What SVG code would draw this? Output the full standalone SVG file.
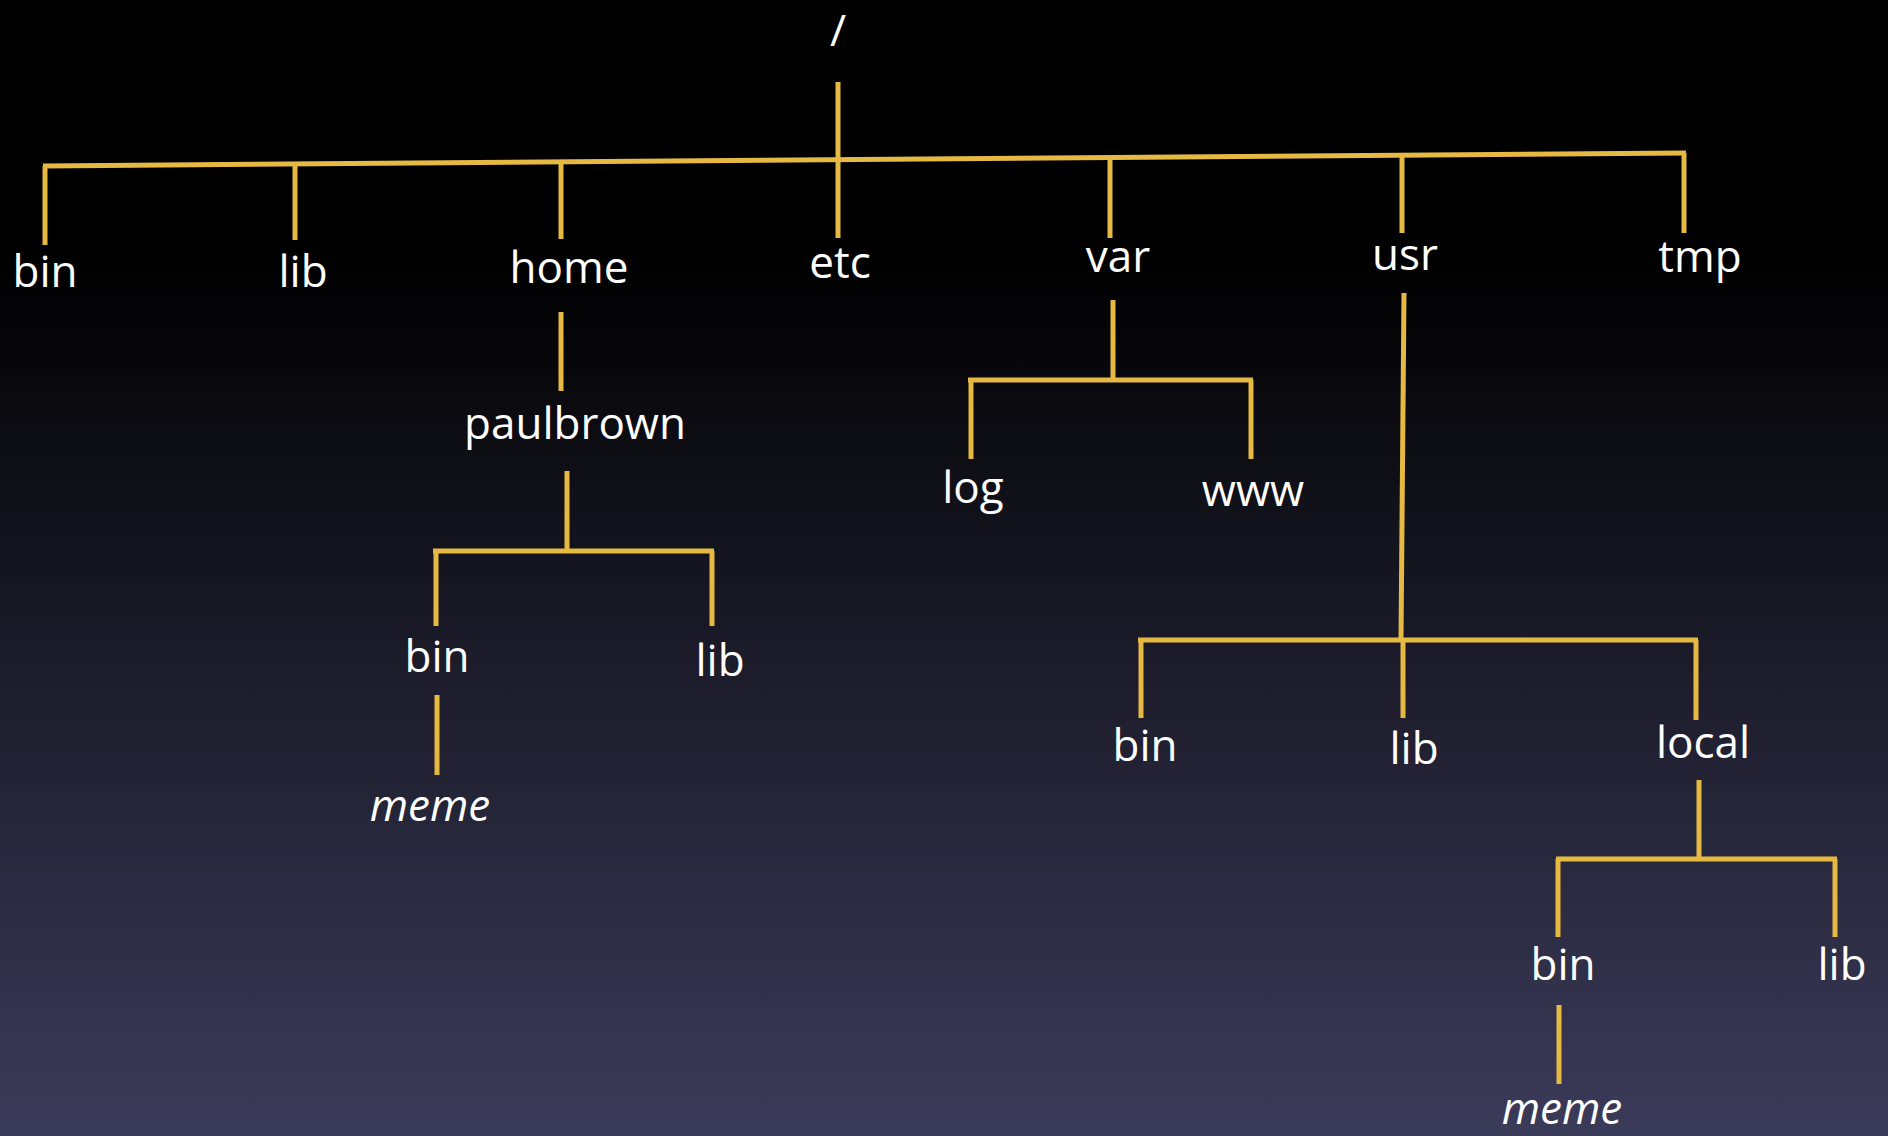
<svg xmlns="http://www.w3.org/2000/svg" width="1888" height="1136" viewBox="0 0 1888 1136">
<defs>
<linearGradient id="bg" x1="0" y1="0" x2="0" y2="1">
<stop offset="0" stop-color="#000000"/>
<stop offset="0.22" stop-color="#000000"/>
<stop offset="1" stop-color="#3b3b5a"/>
</linearGradient>
<style>
.l{stroke:#e6b943;stroke-width:5;fill:none;stroke-linecap:butt}
.t{font-family:"Open Sans","Liberation Sans",sans-serif;font-size:44px;fill:#ffffff;text-anchor:middle}
.i{font-style:italic}
</style>
</defs>
<rect width="1888" height="1136" fill="url(#bg)"/>
<g id="connectors">
<line class="l" x1="838" y1="82" x2="838" y2="160"/>
<line class="l" x1="43" y1="166" x2="1686" y2="153"/>
<line class="l" x1="45" y1="166" x2="45" y2="245"/>
<line class="l" x1="295" y1="164" x2="295" y2="240"/>
<line class="l" x1="561" y1="162" x2="561" y2="239"/>
<line class="l" x1="838" y1="160" x2="838" y2="238"/>
<line class="l" x1="1110" y1="158" x2="1110" y2="238"/>
<line class="l" x1="1402" y1="156" x2="1402" y2="233"/>
<line class="l" x1="1684" y1="153" x2="1684" y2="233"/>
<line class="l" x1="561" y1="312" x2="561" y2="391"/>
<line class="l" x1="567" y1="471" x2="567" y2="551"/>
<line class="l" x1="433" y1="551" x2="714" y2="551"/>
<line class="l" x1="436" y1="551" x2="436" y2="626"/>
<line class="l" x1="712" y1="551" x2="712" y2="626"/>
<line class="l" x1="437" y1="695" x2="437" y2="775"/>
<line class="l" x1="1113" y1="300" x2="1113" y2="380"/>
<line class="l" x1="968" y1="380" x2="1253" y2="380"/>
<line class="l" x1="971" y1="380" x2="971" y2="459"/>
<line class="l" x1="1251" y1="380" x2="1251" y2="459"/>
<line class="l" x1="1404" y1="293" x2="1401" y2="640"/>
<line class="l" x1="1138" y1="640" x2="1698" y2="640"/>
<line class="l" x1="1141" y1="640" x2="1141" y2="718"/>
<line class="l" x1="1403" y1="640" x2="1403" y2="718"/>
<line class="l" x1="1696" y1="640" x2="1696" y2="720"/>
<line class="l" x1="1699" y1="780" x2="1699" y2="859"/>
<line class="l" x1="1556" y1="859" x2="1837" y2="859"/>
<line class="l" x1="1558" y1="859" x2="1558" y2="937"/>
<line class="l" x1="1835" y1="859" x2="1835" y2="937"/>
<line class="l" x1="1559" y1="1005" x2="1559" y2="1084"/>
</g>
<g id="root"><text class="t" x="838" y="46">/</text></g>
<g id="bin"><text class="t" x="45" y="287">bin</text></g>
<g id="lib"><text class="t" x="303" y="287">lib</text></g>
<g id="home"><text class="t" x="569" y="283">home</text></g>
<g id="etc"><text class="t" x="840" y="278">etc</text></g>
<g id="var"><text class="t" x="1118" y="272">var</text></g>
<g id="usr"><text class="t" x="1405" y="270">usr</text></g>
<g id="tmp"><text class="t" x="1700" y="272">tmp</text></g>
<g id="paulbrown"><text class="t" x="575" y="439">paulbrown</text></g>
<g id="home-bin"><text class="t" x="437" y="672">bin</text></g>
<g id="home-lib"><text class="t" x="720" y="676">lib</text></g>
<g id="home-meme"><text class="t i" x="430" y="821">meme</text></g>
<g id="log"><text class="t" x="973" y="503">log</text></g>
<g id="www"><text class="t" x="1253" y="506">www</text></g>
<g id="usr-bin"><text class="t" x="1145" y="761">bin</text></g>
<g id="usr-lib"><text class="t" x="1414" y="764">lib</text></g>
<g id="local"><text class="t" x="1703" y="758">local</text></g>
<g id="local-bin"><text class="t" x="1563" y="980">bin</text></g>
<g id="local-lib"><text class="t" x="1842" y="980">lib</text></g>
<g id="local-meme"><text class="t i" x="1562" y="1124">meme</text></g>
</svg>
